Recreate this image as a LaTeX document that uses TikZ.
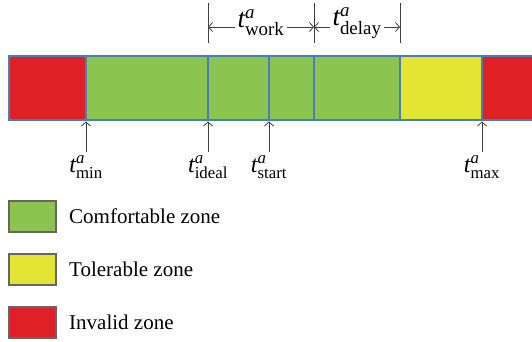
\documentclass[tikz,border=0pt]{standalone}
\usepackage{fontspec}
\setmainfont{Liberation Serif}
\usepackage{amsmath}
\usetikzlibrary{positioning}
\usetikzlibrary{calc}
\usetikzlibrary{arrows.meta}
\definecolor{comfort}{RGB}{139,197,79}
\definecolor{toler}{RGB}{228,229,50}
\definecolor{invalid}{RGB}{224,32,39}
\definecolor{sepblue}{RGB}{74,126,187}
\newcommand{\tlab}[1]{$\textit{t}^{\textit{a}}_{\text{#1}}$}
\tikzstyle{zone}=[rectangle,draw=sepblue,line width=1.3pt,minimum height=64pt,inner sep=0pt,outer sep=0pt]
\tikzstyle{legbox}=[rectangle,draw=black!60,line width=1.1pt,minimum width=47pt,minimum height=31pt,inner sep=0pt,outer sep=0pt]
\tikzstyle{legtext}=[font=\fontsize{21}{25}\selectfont,inner sep=0pt]
\tikzstyle{tlabel}=[font=\fontsize{24}{28}\selectfont,inner sep=1pt]
\tikzstyle{spanlabel}=[font=\fontsize{27}{30}\selectfont,inner sep=2pt,yshift=4pt]
\tikzstyle{pointer}=[-{Straight Barb[length=4pt,width=9pt]},black!75,line width=0.8pt]
\tikzstyle{tick}=[black!75,line width=0.8pt]

\begin{document}
\begin{tikzpicture}[x=1pt,y=1pt]
\useasboundingbox (0,0) rectangle (532,342);
% the time bar
\node[zone,fill=invalid,minimum width=77pt] (r1) at (47.5,254) {};
\node[zone,fill=comfort,minimum width=122pt,right=0pt of r1] (g1) {};
\node[zone,fill=comfort,minimum width=61pt,right=0pt of g1] (g2) {};
\node[zone,fill=comfort,minimum width=45pt,right=0pt of g2] (g3) {};
\node[zone,fill=comfort,minimum width=86pt,right=0pt of g3] (g4) {};
\node[zone,fill=toler,minimum width=82pt,right=0pt of g4] (y1) {};
\node[zone,fill=invalid,minimum width=56pt,right=0pt of y1] (r2) {};
% work and delay spans
\coordinate (w0) at ($(g2.north west)+(0,29)$);
\coordinate (w1) at ($(g4.north west)+(0,29)$);
\coordinate (w2) at ($(y1.north west)+(0,29)$);
\foreach \c in {w0,w1,w2}
  \draw[tick] ($(\c)+(0,-16)$) -- ($(\c)+(0,24)$);
\node[spanlabel] (work) at ($(w0)!0.5!(w1)$) {\tlab{work}};
\node[spanlabel] (delay) at ($(w1)!0.5!(w2)$) {\tlab{delay}};
\draw[pointer] (work.west|-w0) -- (w0);
\draw[pointer] (work.east|-w0) -- (w1);
\draw[pointer] (delay.west|-w1) -- (w1);
\draw[pointer] (delay.east|-w1) -- (w2);
% time points
\coordinate (p1) at ($(g1.south west)+(0,-32)$);
\coordinate (p2) at ($(g2.south west)+(0,-32)$);
\coordinate (p3) at ($(g3.south west)+(0,-32)$);
\coordinate (p4) at ($(r2.south west)+(0,-32)$);
\draw[pointer,shorten >=1.5pt] (p1) -- (g1.south west);
\draw[pointer,shorten >=1.5pt] (p2) -- (g2.south west);
\draw[pointer,shorten >=1.5pt] (p3) -- (g3.south west);
\draw[pointer,shorten >=1.5pt] (p4) -- (r2.south west);
\node[tlabel,below=2pt of p1] (tmin) {\tlab{min}};
\node[tlabel,below=2pt of p2] (tideal) {\tlab{ideal}};
\node[tlabel,below=2pt of p3] (tstart) {\tlab{start}};
\node[tlabel,below=2pt of p4] (tmax) {\tlab{max}};
% legend
\node[legbox,fill=comfort] (lc) at (32.5,125.5) {};
\node[legbox,fill=toler,below=22pt of lc] (lt) {};
\node[legbox,fill=invalid,below=22pt of lt] (li) {};
\node[legtext,right=13pt of lc] (tc) {Comfortable zone};
\node[legtext,right=13pt of lt] (tt) {Tolerable zone};
\node[legtext,right=13pt of li] (ti) {Invalid zone};
\end{tikzpicture}
\end{document}
